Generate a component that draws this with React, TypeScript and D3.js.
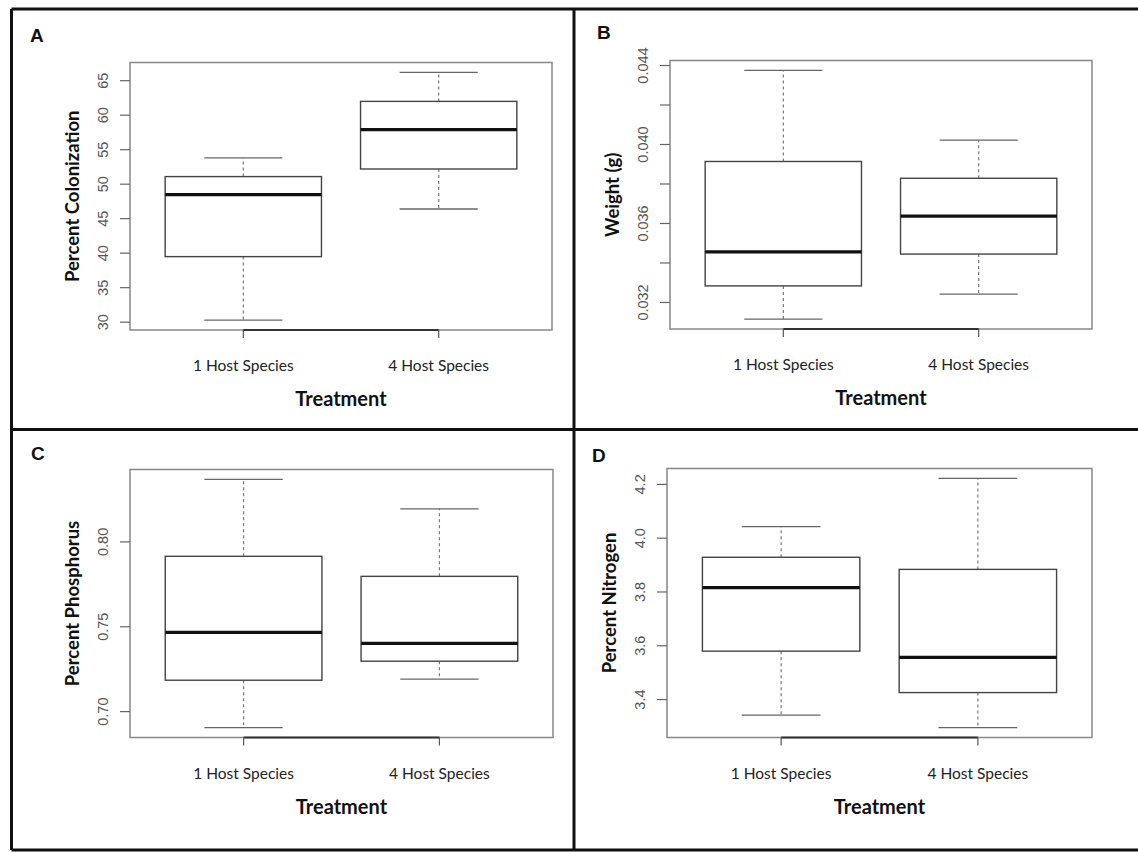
import React from "react";
import * as d3 from "d3";

const categories = ["1 Host Species", "4 Host Species"];

// five-number summaries: [lower whisker, Q1, median, Q3, upper whisker]
const colonization1 = [30.3, 39.5, 48.5, 51.1, 53.8];
const colonization4 = [46.4, 52.2, 57.9, 62.0, 66.2];
const weight1 = [0.03116, 0.03284, 0.03456, 0.03914, 0.04375];
const weight4 = [0.03242, 0.03445, 0.03637, 0.03829, 0.04022];
const phosphorus1 = [0.6906, 0.7185, 0.7467, 0.7915, 0.8368];
const phosphorus4 = [0.7191, 0.7297, 0.7402, 0.7797, 0.8195];
const nitrogen1 = [3.342, 3.58, 3.816, 3.929, 4.043];
const nitrogen4 = [3.296, 3.426, 3.557, 3.884, 4.222];

const colonizationTicks = [30, 35, 40, 45, 50, 55, 60, 65];
const weightTicks = [0.032, 0.034, 0.036, 0.038, 0.04, 0.042, 0.044];
const weightLabelled = [0.032, 0.036, 0.04, 0.044];
const phosphorusTicks = [0.7, 0.75, 0.8];
const nitrogenTicks = [3.4, 3.6, 3.8, 4.0, 4.2];

const panels = [
  { letter: "A", title: "Percent Colonization", stats: [colonization1, colonization4], ticks: colonizationTicks, labelled: colonizationTicks, fmt: "d",
    left: 130, right: 552, top: 62.5, bottom: 330, lx: 30, ly: 42 },
  { letter: "B", title: "Weight (g)", stats: [weight1, weight4], ticks: weightTicks, labelled: weightLabelled, fmt: ".3f",
    left: 670, right: 1092, top: 60.5, bottom: 329, lx: 597, ly: 39 },
  { letter: "C", title: "Percent Phosphorus", stats: [phosphorus1, phosphorus4], ticks: phosphorusTicks, labelled: phosphorusTicks, fmt: ".2f",
    left: 130, right: 553, top: 469.5, bottom: 737.5, lx: 31, ly: 460 },
  { letter: "D", title: "Percent Nitrogen", stats: [nitrogen1, nitrogen4], ticks: nitrogenTicks, labelled: nitrogenTicks, fmt: ".1f",
    left: 667, right: 1092, top: 468.5, bottom: 737.5, lx: 592, ly: 462 },
];

const sans = "'Liberation Sans', Arial, sans-serif";
const lato = "Lato, 'Open Sans', sans-serif";

function Panel({ p }) {
  const all = p.stats.flat();
  const lo = d3.min(all), hi = d3.max(all);
  const pad = (hi - lo) * 0.04;
  const y = d3.scaleLinear().domain([lo - pad, hi + pad]).range([p.bottom, p.top]);
  const x = d3.scaleLinear().domain([0.42, 2.58]).range([p.left, p.right]);
  const fmt = d3.format(p.fmt);
  const midX = (p.left + p.right) / 2;
  const midY = (p.top + p.bottom) / 2;

  return (
    <g>
      <text x={p.lx} y={p.ly} fontFamily={sans} fontWeight="bold" fontSize={19} fill="#111">{p.letter}</text>

      {/* plot frame */}
      <rect x={p.left} y={p.top} width={p.right - p.left} height={p.bottom - p.top} fill="none" stroke="#888" strokeWidth={1.5} />

      {/* y axis */}
      {p.ticks.map((t) => (
        <line key={"t" + t} x1={p.left - 10} x2={p.left} y1={y(t)} y2={y(t)} stroke="#666" strokeWidth={1.2} />
      ))}
      {p.labelled.map((t) => (
        <text key={"l" + t} transform={`translate(${p.left - 27},${y(t)}) rotate(-90)`} textAnchor="middle" dominantBaseline="central"
          fontFamily={sans} fontSize={14.5} fill="#555">{fmt(t)}</text>
      ))}
      <text transform={`translate(${p.left - 58},${midY}) rotate(-90)`} textAnchor="middle" dominantBaseline="central"
        fontFamily={lato} fontWeight="bold" fontSize={18.5} fill="#111">{p.title}</text>

      {/* x axis */}
      <line x1={x(1)} x2={x(2)} y1={p.bottom} y2={p.bottom} stroke="#333" strokeWidth={2} />
      {categories.map((c, i) => (
        <g key={c}>
          <line x1={x(i + 1)} x2={x(i + 1)} y1={p.bottom} y2={p.bottom + 8} stroke="#555" strokeWidth={1.2} />
          <text x={x(i + 1)} y={p.bottom + 41} textAnchor="middle" fontFamily={lato} fontSize={15.5} fill="#222">{c}</text>
        </g>
      ))}
      <text x={midX} y={p.bottom + 76} textAnchor="middle" fontFamily={lato} fontWeight="bold" fontSize={20} fill="#111">Treatment</text>

      {/* boxes */}
      {p.stats.map((s, i) => {
        const cx = x(i + 1);
        const bw = x(1.4) - x(1);
        const cw = x(1.2) - x(1);
        return (
          <g key={i}>
            <line x1={cx} x2={cx} y1={y(s[3])} y2={y(s[4])} stroke="#777" strokeWidth={1.2} strokeDasharray="3,3" />
            <line x1={cx} x2={cx} y1={y(s[1])} y2={y(s[0])} stroke="#777" strokeWidth={1.2} strokeDasharray="3,3" />
            <line x1={cx - cw} x2={cx + cw} y1={y(s[4])} y2={y(s[4])} stroke="#666" strokeWidth={1.3} />
            <line x1={cx - cw} x2={cx + cw} y1={y(s[0])} y2={y(s[0])} stroke="#666" strokeWidth={1.3} />
            <rect x={cx - bw} y={y(s[3])} width={bw * 2} height={y(s[1]) - y(s[3])} fill="white" stroke="#444" strokeWidth={1.4} />
            <line x1={cx - bw} x2={cx + bw} y1={y(s[2])} y2={y(s[2])} stroke="#111" strokeWidth={3.2} />
          </g>
        );
      })}
    </g>
  );
}

export default function App() {
  return (
    <svg width={1138} height={852} style={{ position: "absolute", left: 0, top: 0, background: "white" }}>
      <rect width={1138} height={852} fill="white" />
      {/* figure frame */}
      <line x1={11.5} x2={1138} y1={9} y2={9} stroke="#111" strokeWidth={3} />
      <line x1={11.5} x2={1138} y1={429.5} y2={429.5} stroke="#111" strokeWidth={3} />
      <line x1={11.5} x2={1138} y1={850} y2={850} stroke="#111" strokeWidth={3} />
      <line x1={11.5} x2={11.5} y1={9} y2={850} stroke="#111" strokeWidth={3} />
      <line x1={574} x2={574} y1={9} y2={850} stroke="#111" strokeWidth={3} />
      {panels.map((p) => (
        <Panel key={p.letter} p={p} />
      ))}
    </svg>
  );
}
